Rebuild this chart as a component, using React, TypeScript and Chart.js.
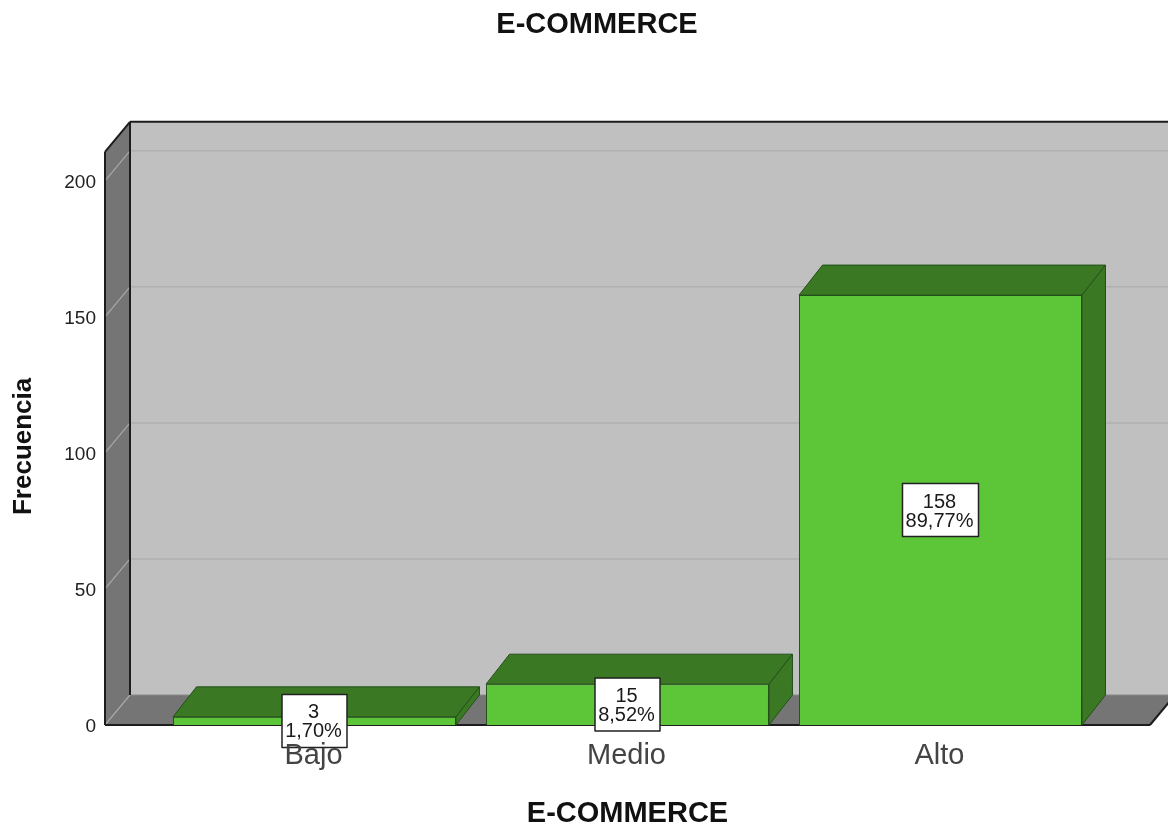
import React, { useEffect, useRef } from "react";
import { Chart, registerables } from "chart.js";

Chart.register(...registerables);

const categories = ["Bajo", "Medio", "Alto"];
const frequencies = [3, 15, 158];
const percentLabels = ["1,70%", "8,52%", "89,77%"];
const yTicks = [0, 50, 100, 150, 200];

const FONT = '"Liberation Sans", Arial, sans-serif';
const DEPTH_X = 25;
const DEPTH_Y = 30;
const BAR_DEPTH_X = 23.5;
const WALL_INSET = 53;
const FLOOR_RIGHT = 1150;
const Y_TITLE_SHIFT = 8;

const poly = (ctx: CanvasRenderingContext2D, pts: number[][], fill: string, stroke?: string, lw = 1) => {
  ctx.beginPath();
  pts.forEach(([x, y], i) => (i ? ctx.lineTo(x, y) : ctx.moveTo(x, y)));
  ctx.closePath();
  ctx.fillStyle = fill;
  ctx.fill();
  if (stroke) {
    ctx.strokeStyle = stroke;
    ctx.lineWidth = lw;
    ctx.lineJoin = "round";
    ctx.stroke();
  }
};

const line = (ctx: CanvasRenderingContext2D, x1: number, y1: number, x2: number, y2: number, color: string, lw: number) => {
  ctx.beginPath();
  ctx.moveTo(x1, y1);
  ctx.lineTo(x2, y2);
  ctx.strokeStyle = color;
  ctx.lineWidth = lw;
  ctx.stroke();
};

// Back wall, side wall and floor of the 3D box, with gridlines following the y scale.
const boxPlugin = {
  id: "box3d",
  beforeDatasetsDraw(chart: any) {
    const { ctx, chartArea, scales } = chart;
    const left = chartArea.left - WALL_INSET;
    const top = chartArea.top;
    const base = chartArea.bottom;
    const dark = "#1d1d1d";
    ctx.save();
    poly(ctx, [[left + DEPTH_X, top - DEPTH_Y], [1200, top - DEPTH_Y], [1200, base - DEPTH_Y], [left + DEPTH_X, base - DEPTH_Y]], "#c0c0c0");
    poly(ctx, [[left, top], [left + DEPTH_X, top - DEPTH_Y], [left + DEPTH_X, base - DEPTH_Y], [left, base]], "#757575");
    poly(ctx, [[left, base], [left + DEPTH_X, base - DEPTH_Y], [FLOOR_RIGHT + DEPTH_X, base - DEPTH_Y], [FLOOR_RIGHT, base]], "#757575");
    yTicks.forEach((v) => {
      const y = scales.y.getPixelForValue(v);
      line(ctx, left, y, left + DEPTH_X, y - DEPTH_Y, "#a8a8a8", 1.2);
      if (v > 0) line(ctx, left + DEPTH_X, y - DEPTH_Y, 1200, y - DEPTH_Y, "#b0b0b0", 1.5);
    });
    line(ctx, left + DEPTH_X, base - DEPTH_Y, 1200, base - DEPTH_Y, "#8a8a8a", 1);
    line(ctx, left + DEPTH_X, top - DEPTH_Y, 1200, top - DEPTH_Y, dark, 2);
    line(ctx, left + DEPTH_X, top - DEPTH_Y, left + DEPTH_X, base - DEPTH_Y, dark, 2);
    line(ctx, left, top, left + DEPTH_X, top - DEPTH_Y, dark, 2);
    line(ctx, left, top, left, base, dark, 2);
    line(ctx, left, base, FLOOR_RIGHT, base, dark, 2);
    line(ctx, FLOOR_RIGHT, base, FLOOR_RIGHT + DEPTH_X, base - DEPTH_Y, dark, 2);
    ctx.restore();
  },
  // Top and side faces of each bar, then the boxed value labels.
  afterDatasetsDraw(chart: any) {
    const { ctx } = chart;
    const bars = chart.getDatasetMeta(0).data;
    ctx.save();
    bars.forEach((bar: any) => {
      const l = bar.x - bar.width / 2;
      const r = bar.x + bar.width / 2;
      const t = bar.y;
      const b = bar.base;
      const edge = "#24501a";
      poly(ctx, [[l, t], [l + BAR_DEPTH_X, t - DEPTH_Y], [r + BAR_DEPTH_X, t - DEPTH_Y], [r, t]], "#3b7823", edge);
      poly(ctx, [[r, t], [r + BAR_DEPTH_X, t - DEPTH_Y], [r + BAR_DEPTH_X, b - DEPTH_Y], [r, b]], "#3b7823", edge);
    });
    ctx.font = `20px ${FONT}`;
    ctx.textAlign = "center";
    ctx.textBaseline = "middle";
    bars.forEach((bar: any, i: number) => {
      const cy = (bar.y + bar.base) / 2;
      const w = Math.round(ctx.measureText(percentLabels[i]).width) + 8;
      const h = 53;
      ctx.fillStyle = "#ffffff";
      ctx.strokeStyle = "#222222";
      ctx.lineWidth = 1.5;
      ctx.fillRect(bar.x - w / 2, cy - h / 2, w, h);
      ctx.strokeRect(bar.x - w / 2, cy - h / 2, w, h);
      ctx.fillStyle = "#1a1a1a";
      ctx.fillText(String(frequencies[i]), bar.x - 1, cy - 8);
      ctx.fillText(percentLabels[i], bar.x - 1, cy + 11);
    });
    ctx.restore();
  },
  afterLayout(chart: any) {
    // The heading sits centred over the span from the axis title to the page edge.
    if (chart.titleBlock) {
      chart.titleBlock.left = 26;
      chart.titleBlock.right = chart.width;
    }
    // The y axis title hangs a little below the middle of the axis.
    const y = chart.scales.y;
    const drawTitle = y.drawTitle;
    y.drawTitle = function (...args: any[]) {
      chart.ctx.save();
      chart.ctx.translate(0, Y_TITLE_SHIFT);
      drawTitle.apply(this, args);
      chart.ctx.restore();
    };
  },
};

export default function App() {
  const ref = useRef<HTMLCanvasElement>(null);
  useEffect(() => {
    document.body.style.margin = "0";
    const chart = new Chart(ref.current!, {
      type: "bar",
      data: {
        labels: categories,
        datasets: [
          {
            label: "Frecuencia",
            data: frequencies,
            backgroundColor: "#5dc538",
            borderColor: "#24501a",
            borderWidth: 1,
            barPercentage: 0.904,
            categoryPercentage: 1,
          },
        ],
      },
      options: {
        responsive: false,
        animation: false,
        layout: { padding: { left: 0, right: 71, top: 0, bottom: 0 } },
        plugins: {
          legend: { display: false },
          tooltip: { enabled: false },
          title: {
            display: true,
            text: "E-COMMERCE",
            color: "#111111",
            font: { family: FONT, size: 29, weight: "bold" },
            padding: { top: 8, bottom: 109 },
          },
        },
        scales: {
          x: {
            grid: { display: false, drawTicks: false },
            border: { display: false },
            afterFit: (s: any) => {
              s.height = 101;
            },
            ticks: { color: "#444444", padding: 14, labelOffset: -1, z: 1, font: { family: FONT, size: 29 } },
            title: {
              display: true,
              text: "E-COMMERCE",
              color: "#111111",
              font: { family: FONT, size: 29, weight: "bold" },
              padding: { top: 10, bottom: -5 },
            },
          },
          y: {
            min: 0,
            max: 210.66,
            grid: { display: false, drawTicks: false },
            border: { display: false },
            afterFit: (s: any) => {
              s.width = 158;
            },
            ticks: {
              stepSize: 50,
              includeBounds: false,
              color: "#222222",
              padding: 62,
              labelOffset: 2,
              font: { family: FONT, size: 19 },
            },
            title: {
              display: true,
              text: "Frecuencia",
              color: "#111111",
              font: { family: FONT, size: 26, weight: "bold" },
              padding: { top: 8, bottom: 0 },
            },
          },
        },
      },
      plugins: [boxPlugin],
    } as any);
    return () => chart.destroy();
  }, []);
  return <canvas ref={ref} width={1168} height={826} style={{ display: "block" }} />;
}
